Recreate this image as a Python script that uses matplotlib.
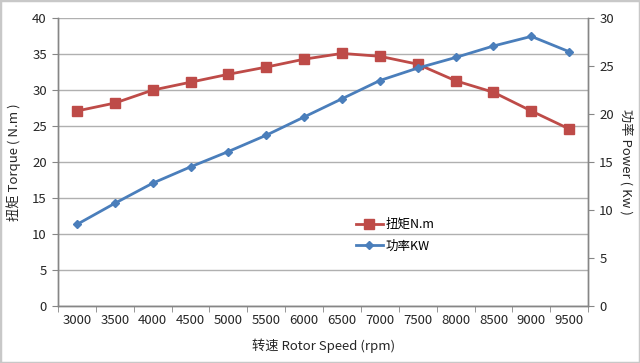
import numpy as np
import matplotlib.pyplot as plt
from matplotlib.patches import Rectangle

plt.rcParams['font.family'] = ['Noto Sans CJK SC', 'DejaVu Sans']

speeds = ['3000', '3500', '4000', '4500', '5000', '5500', '6000',
          '6500', '7000', '7500', '8000', '8500', '9000', '9500']
torque = [27.1, 28.2, 30.0, 31.1, 32.2, 33.2, 34.3,
          35.1, 34.7, 33.6, 31.3, 29.7, 27.1, 24.6]
power = [8.5, 10.7, 12.8, 14.5, 16.1, 17.8, 19.7,
         21.6, 23.5, 24.8, 25.9, 27.1, 28.1, 26.5]

red = '#BE4B48'
blue = '#4A7EBB'
axis_gray = '#868686'
text_color = '#262626'

fig = plt.figure(figsize=(6.4, 3.63), dpi=100)
ax = fig.add_axes([0.0906, 0.157, 0.8284, 0.793])
ax2 = ax.twinx()

x = np.arange(len(speeds))
l1, = ax.plot(x, torque, color=red, lw=2, marker='s', ms=6.5,
              markeredgecolor=red, label='扭矩N.m', zorder=3)
l2, = ax2.plot(x, power, color=blue, lw=2, marker='D', ms=4.5,
               markeredgecolor=blue, label='功率KW', zorder=3)

ax.set_xlim(-0.5, len(speeds) - 0.5)
ax.set_ylim(0, 40)
ax2.set_ylim(0, 30)
ax.set_yticks(np.arange(0, 41, 5))
ax2.set_yticks(np.arange(0, 31, 5))
ax.set_xticks(x)
ax.set_xticklabels(speeds)
ax.set_xticks(np.arange(-0.5, len(speeds), 1), minor=True)
ax.tick_params(axis='x', which='major', length=0, pad=6)
ax.tick_params(axis='x', which='minor', length=4, color=axis_gray)
ax.tick_params(axis='y', length=4, color=axis_gray, pad=4)
ax2.tick_params(axis='y', length=4, color=axis_gray, pad=4)
for a in (ax, ax2):
    a.tick_params(labelsize=9.5, labelcolor=text_color)

ax.grid(axis='y', color='#b0b0b0', lw=1)
ax.set_axisbelow(True)

for a in (ax, ax2):
    a.spines['top'].set_visible(False)
    for s in ('left', 'right', 'bottom'):
        a.spines[s].set_color(axis_gray)
        a.spines[s].set_linewidth(1)

ax.set_ylabel('扭矩 Torque ( N.m )', fontsize=9.5, color=text_color, labelpad=8)
ax2.set_ylabel('功率 Power ( Kw )', fontsize=9.5, color=text_color,
               rotation=-90, labelpad=14)
ax.set_xlabel('转速 Rotor Speed (rpm)', fontsize=9.5, color=text_color, labelpad=8)

ax.legend(handles=[l1, l2], loc='upper left', bbox_to_anchor=(0.54, 0.345),
          frameon=False, fontsize=9, handlelength=2.2, handletextpad=0.2,
          labelspacing=0.7)

fig.patches.append(Rectangle((0, 0), 1, 1, transform=fig.transFigure,
                             fill=False, edgecolor='#c8c8c8', lw=2.5))

fig.savefig('out.png', dpi=100)
